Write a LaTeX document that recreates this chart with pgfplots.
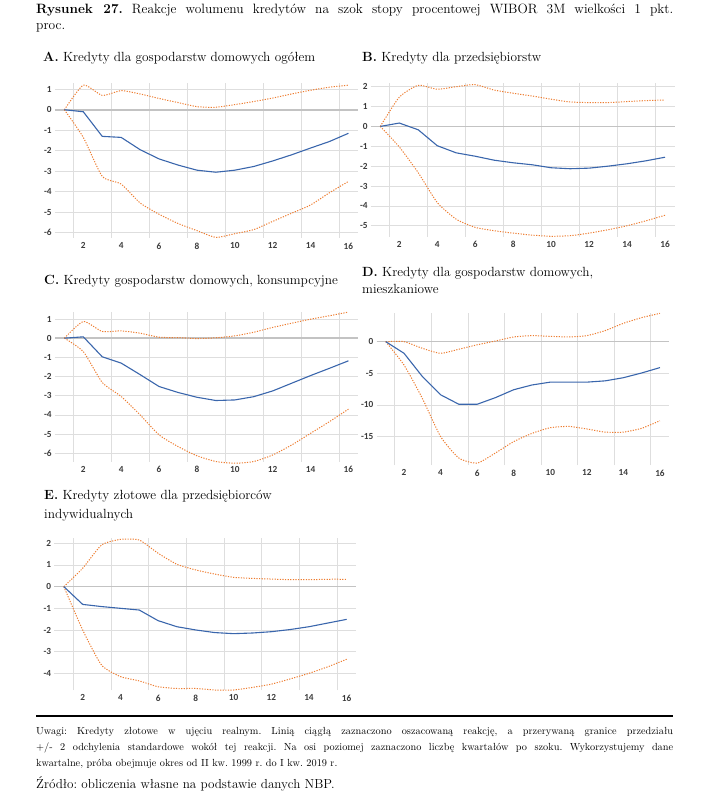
\documentclass[border=0pt]{standalone}
\usepackage{fontspec}
\usepackage{pgfplots}
\pgfplotsset{compat=1.18}
\newfontfamily\tickfont{Carlito}
\definecolor{lblue}{RGB}{58,102,172}
\definecolor{lorange}{RGB}{237,125,49}
\definecolor{gridgray}{RGB}{222,222,222}
\definecolor{zerogray}{RGB}{195,195,195}
\definecolor{tickgray}{RGB}{60,60,60}
\pgfplotsset{
  panel/.style={
    scale only axis, clip=false,
    xmin=0.5, xmax=16.5,
    axis line style={draw=none},
    major tick length=0pt, minor tick length=0pt,
    xtick={2,4,...,16},
    minor xtick={1.5,3.5,...,15.5},
    xminorgrids, ymajorgrids,
    minor grid style={draw=gridgray, line width=0.8pt},
    major grid style={draw=gridgray, line width=0.8pt},
    extra y ticks={0}, extra y tick labels={},
    extra y tick style={grid=major, major grid style={draw=zerogray, line width=1.6pt}},
    /pgf/number format/assume math mode=true,
    tick label style={font=\tickfont\bfseries\fontsize{9.3}{9.3}\selectfont, text=tickgray, inner sep=0pt},
    yticklabel style={anchor=east, xshift=-3pt},
    xticklabel style={anchor=north, yshift=-4.5pt},
  },
  mid/.style={lblue, line width=1.1pt},
  band/.style={lorange, line width=1pt, dash pattern=on 1.2pt off 1.4pt, smooth, tension=0.35},
}
\newcommand{\ttl}{\fontsize{13.3}{15}\selectfont}
\frenchspacing
\begin{document}
\frenchspacing
\begin{tikzpicture}[x=1pt,y=1pt]
\useasboundingbox (0,0) rectangle (706,-800);
% Title
\node[anchor=base west, inner sep=0] at (36,-14) {\fontsize{13.5}{15}\selectfont\makebox[637pt][s]{\textbf{Rysunek 27.} Reakcje wolumenu kredytów na szok stopy procentowej WIBOR 3M wielkości 1 pkt.}};
\node[anchor=base west, inner sep=0] at (36,-30) {\fontsize{13.5}{15}\selectfont proc.};
% Panel titles
\node[anchor=base west, inner sep=0] at (43,-62) {\ttl\textbf{A.} Kredyty dla gospodarstw domowych ogółem};
\node[anchor=base west, inner sep=0] at (362,-62) {\ttl\textbf{B.} Kredyty dla przedsiębiorstw};
\node[anchor=base west, inner sep=0] at (44,-284) {\ttl\textbf{C.} Kredyty gospodarstw domowych, konsumpcyjne};
\node[anchor=base west, inner sep=0] at (362,-276) {\ttl\textbf{D.} Kredyty dla gospodarstw domowych,};
\node[anchor=base west, inner sep=0] at (362,-293) {\ttl mieszkaniowe};
\node[anchor=base west, inner sep=0] at (44,-499) {\ttl\textbf{E.} Kredyty złotowe dla przedsiębiorców};
\node[anchor=base west, inner sep=0] at (44,-518) {\ttl indywidualnych};

% Panel A
\begin{axis}[panel, at={(54.9pt,-83.3pt)}, anchor=north west, width=303pt, height=154.7pt,
  ymin=-6.26, ymax=1.29, ytick={-6,-5,...,1}]
\addplot[band] coordinates {(1,0) (2,1.2) (3,0.7) (4,0.93) (5,0.77) (6,0.55) (7,0.35) (8,0.15) (9,0.12) (10,0.25) (11,0.4) (12,0.57) (13,0.77) (14,0.95) (15,1.1) (16,1.2)};
\addplot[band] coordinates {(1,0) (2,-1.35) (3,-3.25) (4,-3.63) (5,-4.55) (6,-5.1) (7,-5.55) (8,-5.9) (9,-6.23) (10,-6.05) (11,-5.85) (12,-5.45) (13,-5.05) (14,-4.65) (15,-4.05) (16,-3.5)};
\addplot[mid] coordinates {(1,0) (2,-0.1) (3,-1.3) (4,-1.35) (5,-1.95) (6,-2.4) (7,-2.7) (8,-2.95) (9,-3.05) (10,-2.95) (11,-2.77) (12,-2.5) (13,-2.2) (14,-1.87) (15,-1.55) (16,-1.15)};
\end{axis}

% Panel B
\begin{axis}[panel, at={(370.8pt,-83.3pt)}, anchor=north west, width=303.7pt, height=153.4pt,
  ymin=-5.55, ymax=2.17, ytick={-5,-4,...,2}]
\addplot[band] coordinates {(1,0) (2,1.47) (3,2.07) (4,1.87) (5,2.0) (6,2.1) (7,1.83) (8,1.67) (9,1.53) (10,1.37) (11,1.23) (12,1.2) (13,1.2) (14,1.25) (15,1.3) (16,1.33)};
\addplot[band] coordinates {(1,0) (2,-1.03) (3,-2.33) (4,-3.83) (5,-4.67) (6,-5.08) (7,-5.25) (8,-5.37) (9,-5.47) (10,-5.53) (11,-5.5) (12,-5.37) (13,-5.2) (14,-5.0) (15,-4.75) (16,-4.47)};
\addplot[mid] coordinates {(1,0) (2,0.17) (3,-0.17) (4,-0.97) (5,-1.33) (6,-1.5) (7,-1.7) (8,-1.83) (9,-1.93) (10,-2.08) (11,-2.13) (12,-2.1) (13,-2.0) (14,-1.88) (15,-1.73) (16,-1.55)};
\end{axis}

% Panel C
\begin{axis}[panel, at={(54.9pt,-311.7pt)}, anchor=north west, width=303pt, height=150pt,
  ymin=-6.44, ymax=1.38, ytick={-6,-5,...,1}]
\addplot[band] coordinates {(1,0) (2,0.87) (3,0.35) (4,0.38) (5,0.26) (6,0.05) (7,0.03) (8,-0.02) (9,0.02) (10,0.12) (11,0.31) (12,0.56) (13,0.78) (14,0.99) (15,1.17) (16,1.36)};
\addplot[band] coordinates {(1,0) (2,-0.7) (3,-2.31) (4,-3.04) (5,-4.0) (6,-5.04) (7,-5.65) (8,-6.13) (9,-6.43) (10,-6.52) (11,-6.43) (12,-6.09) (13,-5.57) (14,-4.96) (15,-4.35) (16,-3.7)};
\addplot[mid] coordinates {(1,0) (2,0.07) (3,-0.97) (4,-1.3) (5,-1.9) (6,-2.52) (7,-2.83) (8,-3.08) (9,-3.25) (10,-3.22) (11,-3.05) (12,-2.75) (13,-2.35) (14,-1.95) (15,-1.57) (16,-1.18)};
\end{axis}

% Panel D
\begin{axis}[panel, at={(376.6pt,-313.3pt)}, anchor=north west, width=292.5pt, height=151.7pt,
  ymin=-19.5, ymax=4.48, ytick={-15,-10,-5,0}]
\addplot[band] coordinates {(1,0) (2,0) (3,-1.05) (4,-1.84) (5,-1.2) (6,-0.5) (7,0.1) (8,0.74) (9,0.95) (10,0.84) (11,0.74) (12,0.95) (13,1.74) (14,2.9) (15,3.8) (16,4.47)};
\addplot[band] coordinates {(1,0) (2,-3.7) (3,-8.95) (4,-15) (5,-18.4) (6,-19.2) (7,-17.6) (8,-15.8) (9,-14.5) (10,-13.6) (11,-13.4) (12,-13.8) (13,-14.3) (14,-14.3) (15,-13.7) (16,-12.5)};
\addplot[mid] coordinates {(1,0) (2,-1.84) (3,-5.5) (4,-8.4) (5,-9.9) (6,-9.9) (7,-8.85) (8,-7.6) (9,-6.85) (10,-6.4) (11,-6.4) (12,-6.4) (13,-6.2) (14,-5.7) (15,-4.95) (16,-4.1)};
\end{axis}

% Panel E
\begin{axis}[panel, at={(54.4pt,-538.3pt)}, anchor=north west, width=301.7pt, height=151.7pt,
  ymin=-4.77, ymax=2.23, ytick={-4,-3,...,2}]
\addplot[band] coordinates {(1,0) (2,0.85) (3,1.92) (4,2.18) (5,2.15) (6,1.54) (7,1.03) (8,0.77) (9,0.58) (10,0.43) (11,0.38) (12,0.35) (13,0.32) (14,0.32) (15,0.34) (16,0.34)};
\addplot[band] coordinates {(1,0) (2,-2.0) (3,-3.62) (4,-4.15) (5,-4.35) (6,-4.62) (7,-4.7) (8,-4.7) (9,-4.77) (10,-4.77) (11,-4.65) (12,-4.5) (13,-4.26) (14,-4.0) (15,-3.7) (16,-3.35)};
\addplot[mid] coordinates {(1,0) (2,-0.82) (3,-0.92) (4,-1.0) (5,-1.08) (6,-1.57) (7,-1.85) (8,-2.0) (9,-2.12) (10,-2.17) (11,-2.14) (12,-2.08) (13,-1.98) (14,-1.85) (15,-1.68) (16,-1.51)};
\end{axis}

% Notes
\draw[line width=1.6pt] (36,-716) -- (673,-716);
\node[anchor=base west, inner sep=0] at (36,-734) {\fontsize{10.3}{12}\selectfont\makebox[637pt][s]{Uwagi: Kredyty złotowe w ujęciu realnym. Linią ciągłą zaznaczono oszacowaną reakcję, a przerywaną granice przedziału}};
\node[anchor=base west, inner sep=0] at (36,-750) {\fontsize{10.3}{12}\selectfont\makebox[637pt][s]{+/- 2 odchylenia standardowe wokół tej reakcji. Na osi poziomej zaznaczono liczbę kwartałów po szoku. Wykorzystujemy dane}};
\node[anchor=base west, inner sep=0] at (36,-766) {\fontsize{10.3}{12}\selectfont kwartalne, próba obejmuje okres od II kw. 1999 r. do I kw. 2019 r.};
\node[anchor=base west, inner sep=0] at (36,-788) {\fontsize{13.1}{15}\selectfont Źródło: obliczenia własne na podstawie danych NBP.};
\end{tikzpicture}
\end{document}
